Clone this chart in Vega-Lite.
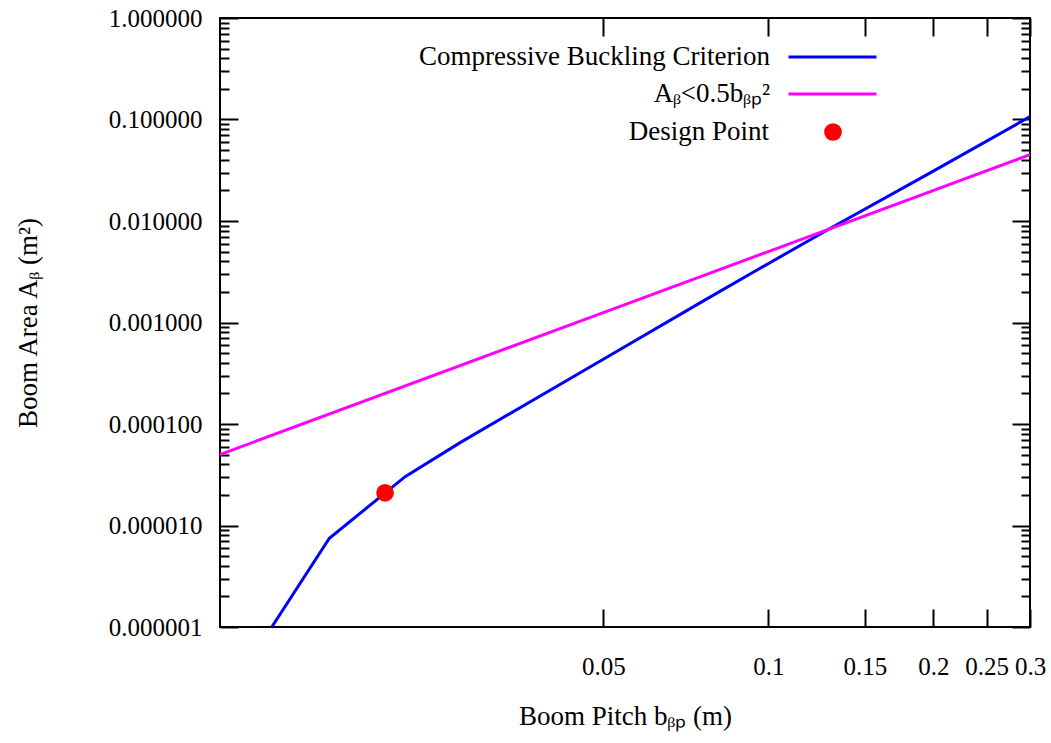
{
  "$schema": "https://vega.github.io/schema/vega-lite/v6.json",
  "width": 810,
  "height": 609,
  "autosize": {"type": "none"},
  "padding": {"left": 220, "top": 18, "right": 21, "bottom": 116},
  "background": "white",
  "config": {
    "font": "Liberation Serif",
    "view": {"stroke": "black", "strokeWidth": 2},
    "axis": {
      "grid": false,
      "domain": false,
      "tickColor": "black",
      "tickWidth": 2,
      "labelFont": "Liberation Serif",
      "labelFontSize": 25,
      "labelColor": "black",
      "labelFlush": false,
      "labelOverlap": false,
      "titleFont": "Liberation Serif",
      "titleFontSize": 27,
      "titleFontWeight": "normal",
      "titleColor": "black"
    },
    "legend": {
      "title": null,
      "padding": 0,
      "labelFont": "Liberation Serif",
      "labelFontSize": 27,
      "labelColor": "black",
      "labelLimit": 600,
      "labelAlign": "right"
    }
  },
  "datasets": {
    "buckling": [
      {"b": 0.012428, "Ab": 0.000001, "series": "Compressive Buckling Criterion"},
      {"b": 0.015828, "Ab": 0.000007479, "series": "Compressive Buckling Criterion"},
      {"b": 0.021758, "Ab": 0.00003026, "series": "Compressive Buckling Criterion"},
      {"b": 0.027409, "Ab": 0.00006557, "series": "Compressive Buckling Criterion"},
      {"b": 0.05, "Ab": 0.000434, "series": "Compressive Buckling Criterion"},
      {"b": 0.0767, "Ab": 0.00167, "series": "Compressive Buckling Criterion"},
      {"b": 0.0966, "Ab": 0.00342, "series": "Compressive Buckling Criterion"},
      {"b": 0.1288, "Ab": 0.0083, "series": "Compressive Buckling Criterion"},
      {"b": 0.1947, "Ab": 0.0286, "series": "Compressive Buckling Criterion"},
      {"b": 0.3, "Ab": 0.1067, "series": "Compressive Buckling Criterion"}
    ],
    "limit": [
      {"b": 0.01, "Ab": 0.00005, "series": "Aᵦ<0.5bᵦₚ²"},
      {"b": 0.05, "Ab": 0.00125, "series": "Aᵦ<0.5bᵦₚ²"},
      {"b": 0.1, "Ab": 0.005, "series": "Aᵦ<0.5bᵦₚ²"},
      {"b": 0.3, "Ab": 0.045, "series": "Aᵦ<0.5bᵦₚ²"}
    ],
    "design": [
      {"b": 0.02, "Ab": 0.000021, "series": "Design Point"}
    ]
  },
  "layer": [
    {
      "data": {"name": "buckling"},
      "mark": {"type": "line", "strokeWidth": 3, "clip": true},
      "encoding": {
        "x": {
          "field": "b", "type": "quantitative",
          "scale": {"type": "log", "domain": [0.01, 0.3], "nice": false},
          "axis": {
            "orient": "bottom",
            "values": [0.05, 0.1, 0.15, 0.2, 0.25, 0.3],
            "format": "~g",
            "tickSize": -18,
            "labelPadding": 45,
            "title": "Boom Pitch bᵦₚ (m)",
            "titlePadding": 24
          }
        },
        "y": {
          "field": "Ab", "type": "quantitative",
          "scale": {"type": "log", "domain": [0.000001, 1], "nice": false},
          "axis": {
            "orient": "left",
            "values": [0.000001, 0.00001, 0.0001, 0.001, 0.01, 0.1, 1],
            "format": ".6f",
            "tickSize": -18,
            "labelPadding": 36,
            "title": "Boom Area Aᵦ (m²)",
            "titlePadding": 66
          }
        },
        "stroke": {
          "field": "series", "type": "nominal",
          "scale": {"domain": ["Compressive Buckling Criterion"], "range": ["#0000ff"]},
          "legend": {
            "orient": "none", "legendX": 567, "legendY": -6.5,
            "symbolType": "stroke", "symbolSize": 7744, "symbolStrokeWidth": 3,
            "labelOffset": -108
          }
        }
      }
    },
    {
      "data": {"name": "limit"},
      "mark": {"type": "line", "strokeWidth": 3, "clip": true},
      "encoding": {
        "x": {"field": "b", "type": "quantitative", "scale": {"type": "log", "domain": [0.01, 0.3], "nice": false}, "axis": null},
        "y": {"field": "Ab", "type": "quantitative", "scale": {"type": "log", "domain": [0.000001, 1], "nice": false}, "axis": null},
        "color": {
          "field": "series", "type": "nominal",
          "scale": {"domain": ["Aᵦ<0.5bᵦₚ²"], "range": ["#ff00ff"]},
          "legend": {
            "orient": "none", "legendX": 567, "legendY": 30.5,
            "symbolType": "stroke", "symbolSize": 7744, "symbolStrokeWidth": 3,
            "labelOffset": -108
          }
        }
      }
    },
    {
      "data": {"name": "design"},
      "mark": {"type": "circle", "size": 314, "opacity": 1},
      "encoding": {
        "x": {
          "field": "b", "type": "quantitative",
          "scale": {"type": "log", "domain": [0.01, 0.3], "nice": false},
          "axis": {"orient": "top", "values": [0.05, 0.1, 0.15, 0.2, 0.25, 0.3], "labels": false, "tickSize": -18, "title": null}
        },
        "y": {
          "field": "Ab", "type": "quantitative",
          "scale": {"type": "log", "domain": [0.000001, 1], "nice": false},
          "axis": {"orient": "right", "values": [0.000001, 0.00001, 0.0001, 0.001, 0.01, 0.1, 1], "labels": false, "tickSize": -18, "title": null}
        },
        "fill": {
          "field": "series", "type": "nominal",
          "scale": {"domain": ["Design Point"], "range": ["#ff0000"]},
          "legend": {
            "orient": "none", "legendX": 599.5, "legendY": 100.5,
            "symbolType": "circle", "symbolSize": 314, "symbolStrokeWidth": 0,
            "labelOffset": -77.5
          }
        }
      }
    },
    {
      "data": {"name": "design"},
      "mark": {"type": "point", "opacity": 0},
      "encoding": {
        "x": {"field": "b", "type": "quantitative", "scale": {"type": "log", "domain": [0.01, 0.3], "nice": false}, "axis": null},
        "y": {
          "field": "Ab", "type": "quantitative",
          "scale": {"type": "log", "domain": [0.000001, 1], "nice": false},
          "axis": {
            "orient": "left", "labels": false, "tickSize": -9, "title": null,
            "values": [2e-6, 3e-6, 4e-6, 5e-6, 6e-6, 7e-6, 8e-6, 9e-6, 2e-5, 3e-5, 4e-5, 5e-5, 6e-5, 7e-5, 8e-5, 9e-5, 2e-4, 3e-4, 4e-4, 5e-4, 6e-4, 7e-4, 8e-4, 9e-4, 0.002, 0.003, 0.004, 0.005, 0.006, 0.007, 0.008, 0.009, 0.02, 0.03, 0.04, 0.05, 0.06, 0.07, 0.08, 0.09, 0.2, 0.3, 0.4, 0.5, 0.6, 0.7, 0.8, 0.9]
          }
        }
      }
    },
    {
      "data": {"name": "design"},
      "mark": {"type": "point", "opacity": 0},
      "encoding": {
        "x": {"field": "b", "type": "quantitative", "scale": {"type": "log", "domain": [0.01, 0.3], "nice": false}, "axis": null},
        "y": {
          "field": "Ab", "type": "quantitative",
          "scale": {"type": "log", "domain": [0.000001, 1], "nice": false},
          "axis": {
            "orient": "right", "labels": false, "tickSize": -9, "title": null,
            "values": [2e-6, 3e-6, 4e-6, 5e-6, 6e-6, 7e-6, 8e-6, 9e-6, 2e-5, 3e-5, 4e-5, 5e-5, 6e-5, 7e-5, 8e-5, 9e-5, 2e-4, 3e-4, 4e-4, 5e-4, 6e-4, 7e-4, 8e-4, 9e-4, 0.002, 0.003, 0.004, 0.005, 0.006, 0.007, 0.008, 0.009, 0.02, 0.03, 0.04, 0.05, 0.06, 0.07, 0.08, 0.09, 0.2, 0.3, 0.4, 0.5, 0.6, 0.7, 0.8, 0.9]
          }
        }
      }
    }
  ],
  "resolve": {
    "scale": {"x": "shared", "y": "shared"},
    "axis": {"x": "independent", "y": "independent"}
  }
}
